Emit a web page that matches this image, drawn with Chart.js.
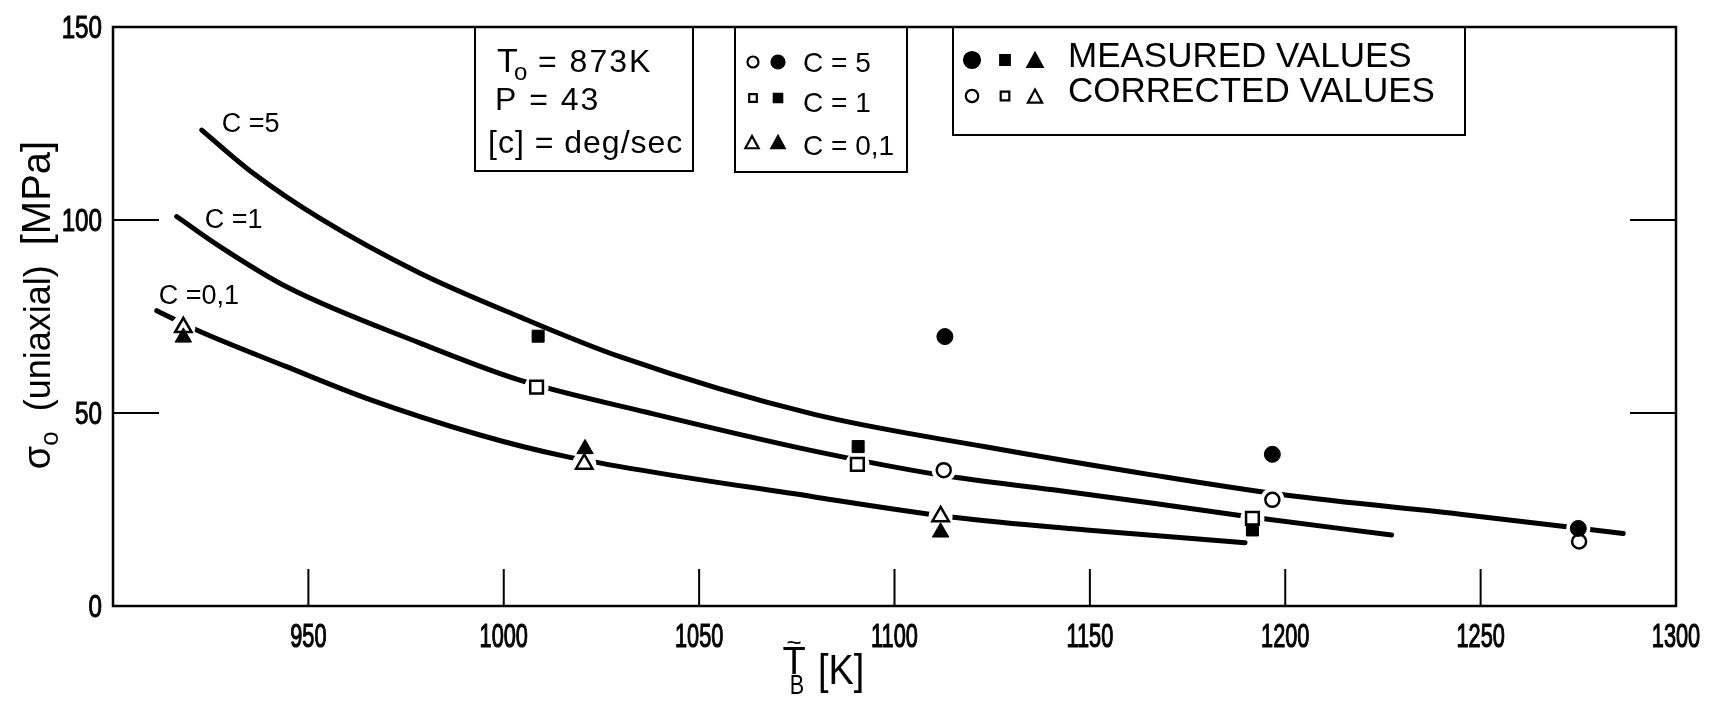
<!DOCTYPE html>
<html>
<head>
<meta charset="utf-8">
<title>sigma0 (uniaxial) vs T_B</title>
<script src="https://cdn.jsdelivr.net/npm/chart.js"></script>
<style>
  html, body { margin: 0; padding: 0; background: #fff; }
  #wrap { width: 1718px; height: 703px; }
</style>
</head>
<body>
<div id="wrap"><canvas id="chart" width="1718" height="703"></canvas></div>
<script>
/* ---------------- data ---------------- */
// fitted curves, T_B [K] vs sigma0 [MPa]
const c5T  = [922.7, 935.9, 953.0, 978.6, 1004.1, 1029.7, 1079.2, 1122.9, 1166.2, 1199.5, 1246.4, 1286.5];
const c5S  = [123.3, 112.1, 100.4, 86.2, 74.9, 64.6, 49.7, 41.3, 33.9, 28.8, 23.6, 18.8];
const c1T  = [916.3, 927.4, 944.4, 978.6, 1004.1, 1036.6, 1079.2, 1112.6, 1140.6, 1166.2, 1191.6, 1227.2];
const c1S  = [100.9, 93.1, 82.7, 68.1, 58.5, 50.2, 40.2, 33.8, 30.1, 26.6, 23.0, 18.4];
const c01T = [911.2, 921.4, 944.4, 964.9, 993.9, 1015.2, 1079.2, 1115.0, 1149.1, 1189.7];
const c01S = [76.5, 71.5, 62.0, 53.8, 44.3, 38.9, 28.3, 23.0, 19.7, 16.4];

// measured values (filled markers)
const m5T  = [1112.9, 1196.7, 1275.0];  const m5S  = [69.8, 39.3, 20.1];
const m1T  = [1008.8, 1090.7, 1191.6];  const m1S  = [69.9, 41.3, 19.7];
const m01T = [918.0, 1020.8, 1111.8];   const m01S = [69.6, 40.7, 19.1];
// corrected values (open markers)
const k5T  = [1112.6, 1196.7, 1275.2];  const k5S  = [35.2, 27.5, 16.7];
const k1T  = [1008.4, 1090.5, 1191.6];  const k1S  = [56.7, 36.7, 22.7];
const k01T = [918.0, 1020.6, 1111.8];   const k01S = [72.2, 36.8, 23.2];

const xTickVals = [950, 1000, 1050, 1100, 1150, 1200, 1250, 1300];
const yTickVals = [0, 50, 100, 150];

/* ---------------- helpers ---------------- */
const FONT = '"Liberation Sans", Arial, sans-serif';
const pts = (T, S) => T.map((t, i) => ({ x: t, y: S[i] }));

function text(ctx, s, x, y, size, o = {}) {
  ctx.save();
  ctx.font = `${size}px ${FONT}`;
  ctx.fillStyle = "#000";
  ctx.strokeStyle = "#000";
  ctx.textAlign = o.align || "left";
  ctx.textBaseline = o.baseline || "alphabetic";
  if (o.spacing && "letterSpacing" in ctx) ctx.letterSpacing = o.spacing + "px";
  ctx.translate(x, y);
  if (o.sx) ctx.scale(o.sx, 1);
  ctx.fillText(s, 0, 0);
  if (o.heavy) { ctx.lineWidth = o.heavy; ctx.strokeText(s, 0, 0); }
  ctx.restore();
}
function textW(ctx, s, size){
  ctx.save(); ctx.font = `${size}px ${FONT}`; const w = ctx.measureText(s).width; ctx.restore(); return w;
}

function marker(ctx, kind, filled, x, y, r){
  ctx.save();
  ctx.lineWidth = 2.2;
  ctx.strokeStyle = "#000";
  ctx.fillStyle = filled ? "#000" : "#fff";
  ctx.beginPath();
  if (kind === "circle") ctx.arc(x, y, r, 0, Math.PI * 2);
  else if (kind === "rect") ctx.rect(x - r, y - r, 2 * r, 2 * r);
  else { ctx.moveTo(x, y - r); ctx.lineTo(x + r * 0.95, y + r * 0.75); ctx.lineTo(x - r * 0.95, y + r * 0.75); ctx.closePath(); }
  ctx.fill(); ctx.stroke();
  ctx.restore();
}

function box(ctx, x0, y0, x1, y1){
  ctx.save(); ctx.lineWidth = 2; ctx.strokeStyle = "#000";
  ctx.strokeRect(x0, y0, x1 - x0, y1 - y0); ctx.restore();
}

/* ---------------- frame, ticks, labels, notes ---------------- */
const decor = {
  id: "decor",
  afterDraw(chart){
    const { ctx, chartArea: a, scales: { x, y } } = chart;
    ctx.save();
    ctx.strokeStyle = "#000";

    // frame
    ctx.lineWidth = 2.5;
    ctx.strokeRect(a.left, a.top, a.right - a.left, a.bottom - a.top);

    // inward ticks
    ctx.lineWidth = 2;
    ctx.beginPath();
    xTickVals.forEach(v => {
      if (v >= x.max) return;
      const px = x.getPixelForValue(v);
      ctx.moveTo(px, a.bottom); ctx.lineTo(px, a.bottom - 37);
    });
    yTickVals.forEach(v => {
      if (v <= y.min || v >= y.max) return;
      const py = y.getPixelForValue(v);
      ctx.moveTo(a.left, py); ctx.lineTo(a.left + 46, py);
      ctx.moveTo(a.right, py); ctx.lineTo(a.right - 46, py);
    });
    ctx.stroke();

    // tick labels (narrow lettering)
    xTickVals.forEach(v => text(ctx, String(v), x.getPixelForValue(v), a.bottom + 41, 34, { align: "center", sx: 0.64, heavy: 1.2 }));
    yTickVals.forEach(v => text(ctx, String(v), a.left - 11, y.getPixelForValue(v) + 11, 31, { align: "right", sx: 0.78, heavy: 1 }));

    // x title: T~_B [K]
    text(ctx, "T", 794, 674, 38, { align: "center" });
    text(ctx, "~", 794, 651, 26, { align: "center" });
    text(ctx, "B", 797, 694, 27, { align: "center", sx: 0.8 });
    text(ctx, "[K]", 818, 684, 42, { sx: 0.9 });

    // y title, rotated
    ctx.save();
    ctx.translate(50, 305);
    ctx.rotate(-Math.PI / 2);
    const parts = [["σ", 38, 0], ["o", 26, 8], ["  (uniaxial)  ", 36, 0], ["[MPa]", 40, 0]];
    const total = parts.reduce((s, p) => s + textW(ctx, p[0], p[1]), 0);
    let cx = -total / 2;
    parts.forEach(([s, sz, dy]) => { text(ctx, s, cx, dy, sz); cx += textW(ctx, s, sz); });
    ctx.restore();

    // curve labels next to the start of each curve
    const lab = (T, S, s, dx, dy) => text(ctx, s, x.getPixelForValue(T[0]) + dx, y.getPixelForValue(S[0]) + dy, 27);
    lab(c5T, c5S, "C =5", 20, 2);
    lab(c1T, c1S, "C =1", 28, 11);
    lab(c01T, c01S, "C =0,1", 2, -7);

    // parameter box
    box(ctx, 475, a.top, 693, 171);
    text(ctx, "T", 497, 72, 34);
    text(ctx, "o", 514, 80, 24);
    text(ctx, "= 873K", 538, 72, 32, { spacing: 2 });
    text(ctx, "P = 43", 495, 110, 32, { spacing: 2 });
    text(ctx, "[c] = deg/sec", 488, 153, 32, { spacing: 1 });

    // rate key
    box(ctx, 735, a.top, 907, 172);
    marker(ctx, "circle", false, 753, 62, 5.5);
    marker(ctx, "circle", true, 778, 62, 6.5);
    text(ctx, "C = 5", 803, 72, 28);
    marker(ctx, "rect", false, 753, 98, 3.8);
    marker(ctx, "rect", true, 778, 98, 4.2);
    text(ctx, "C = 1", 803, 112, 28);
    marker(ctx, "tri", false, 752, 143, 7);
    marker(ctx, "tri", true, 778, 143, 7);
    text(ctx, "C = 0,1", 803, 155, 28);

    // measured / corrected key
    box(ctx, 953, a.top, 1465, 135);
    marker(ctx, "circle", true, 972, 60, 8);
    marker(ctx, "rect", true, 1005, 60, 4.8);
    marker(ctx, "tri", true, 1035, 61, 8);
    text(ctx, "MEASURED VALUES", 1068, 67, 35);
    marker(ctx, "circle", false, 972, 96, 6.2);
    marker(ctx, "rect", false, 1005, 96, 4.3);
    marker(ctx, "tri", false, 1035, 97, 7.5);
    text(ctx, "CORRECTED VALUES", 1068, 102, 35);

    ctx.restore();
  }
};

/* ---------------- chart ---------------- */
const curve = (T, S) => ({
  data: pts(T, S), showLine: true, borderColor: "#000", borderWidth: 5,
  pointRadius: 0, cubicInterpolationMode: "monotone", borderCapStyle: "round", order: 4
});
const mark = (T, S, style, r, filled, order) => ({
  data: pts(T, S), showLine: false, pointStyle: style, pointRadius: r,
  backgroundColor: filled ? "#000" : "#fff", borderColor: "#000", borderWidth: filled ? 1 : 2.5, order
});

new Chart(document.getElementById("chart"), {
  type: "scatter",
  data: {
    datasets: [
      curve(c5T, c5S), curve(c1T, c1S), curve(c01T, c01S),
      // white halo that breaks the curves around the markers
      { data: [...pts(k5T, k5S), ...pts(k1T, k1S), ...pts(k01T, k01S), ...pts(m5T, m5S)],
        showLine: false, pointStyle: "circle", pointRadius: 12,
        backgroundColor: "#fff", borderColor: "#fff", borderWidth: 0, order: 3 },
      mark(k5T, k5S, "circle", 7, false, 2),
      mark(k1T, k1S, "rect", 9, false, 2),
      mark(k01T, k01S, "triangle", 9.5, false, 2),
      mark(m5T, m5S, "circle", 8, true, 1),
      mark(m1T, m1S, "rect", 8.5, true, 1),
      mark(m01T, m01S, "triangle", 9.5, true, 1),
    ]
  },
  options: {
    responsive: false,
    animation: false,
    events: [],
    layout: { padding: { top: 27, right: 42, left: 0, bottom: 0 } },
    plugins: { legend: { display: false }, tooltip: { enabled: false } },
    scales: {
      x: { type: "linear", min: 900, max: 1300,
           grid: { display: false }, border: { display: false }, ticks: { display: false },
           afterFit: s => { s.height = 97; } },
      y: { type: "linear", min: 0, max: 150,
           grid: { display: false }, border: { display: false }, ticks: { display: false },
           afterFit: s => { s.width = 113; } }
    }
  },
  plugins: [decor]
});
</script>
</body>
</html>
